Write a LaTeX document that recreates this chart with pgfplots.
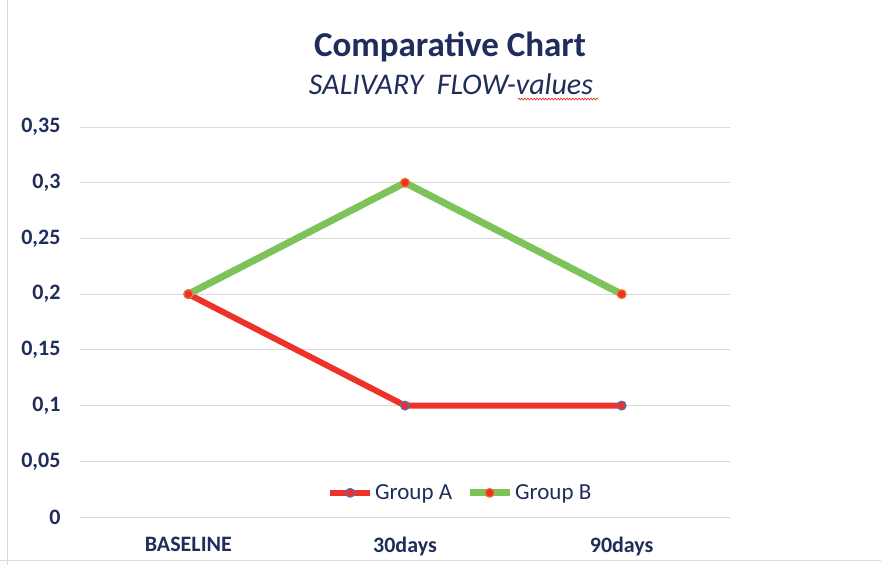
\documentclass[border=0pt]{standalone}
\usepackage{pgfplots}
\pgfplotsset{compat=1.18}
\usepackage{fontspec}
\setmainfont{Carlito}
\usetikzlibrary{decorations.pathmorphing}
\definecolor{navy}{HTML}{1F2D5A}
\definecolor{linered}{HTML}{EE3129}
\definecolor{linegreen}{HTML}{7DC35A}
\definecolor{mkblue}{HTML}{4A74C8}
\definecolor{mkorange}{HTML}{F47B2C}
\definecolor{gridgray}{HTML}{D9D9D9}
\begin{document}
\begin{tikzpicture}[x=1pt,y=1pt]
\path[use as bounding box] (-80,-48) rectangle (801,517);
\draw[gridgray] (-73,-48) -- (-73,517);
\draw[gridgray] (-80,-43) -- (801,-43);
\node[anchor=base, font=\fontsize{35}{40}\selectfont\bfseries, text=navy] at (370,460) {Comparative Chart};
\node[anchor=base, font=\fontsize{30}{34}\selectfont\itshape, text=navy] at (371,422) {SALIVARY\ \ FLOW-values};
\draw[linered, line width=0.7pt, decorate, decoration={snake, amplitude=0.9pt, segment length=3pt}] (438,418) -- (518,418);
\begin{axis}[
    at={(0,0)}, anchor=south west,
    scale only axis,
    width=650pt, height=390pt,
    xmin=-0.5, xmax=2.5,
    ymin=0, ymax=0.35,
    xtick={0,1,2},
    xticklabels={BASELINE,30days,90days},
    ytick={0,0.05,0.1,0.15,0.2,0.25,0.3,0.35},
    yticklabels={0,{0,05},{0,1},{0,15},{0,2},{0,25},{0,3},{0,35}},
    axis line style={draw=none},
    major tick length=0pt,
    ymajorgrids,
    grid style={gridgray, line width=0.8pt},
    ticklabel style={font=\fontsize{22}{25}\selectfont\bfseries, text=navy},
    yticklabel style={xshift=-16pt},
    xticklabel style={yshift=-17pt},
    legend style={at={(0.585,0.062)}, anchor=center, draw=none, fill=none,
        legend columns=2, font=\fontsize{23}{25}\selectfont, text=navy,
        /tikz/every even column/.append style={column sep=12pt}},
    legend image code/.code={
        \draw[mark repeat=2, mark phase=2, #1] plot coordinates {(0pt,0pt) (20pt,0pt) (40pt,0pt)};
    },
]
\addplot[linered, line width=6pt, mark=*, mark size=4.5pt,
    mark options={fill=linered, draw=mkblue, line width=1pt}]
    coordinates {(0,0.2) (1,0.1) (2,0.1)};
\addlegendentry{Group A}
\addplot[linegreen, line width=7pt, mark=*, mark size=4.5pt,
    mark options={fill=linered, draw=mkorange, line width=1pt}]
    coordinates {(0,0.2) (1,0.3) (2,0.2)};
\addlegendentry{Group B}
\end{axis}
\end{tikzpicture}
\end{document}
